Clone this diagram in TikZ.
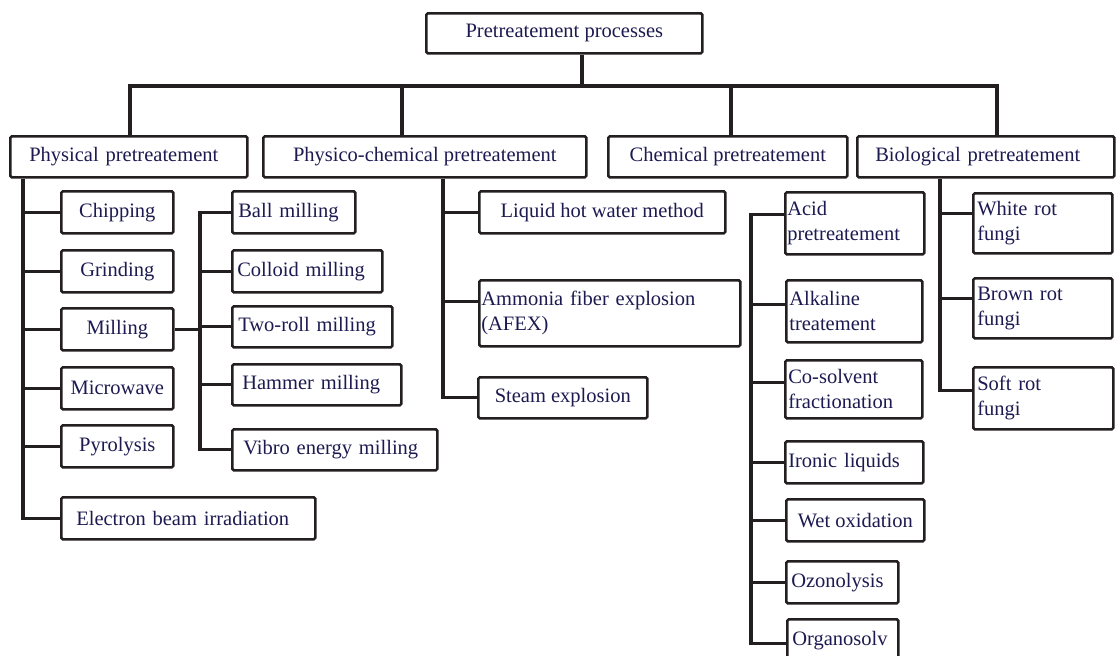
\documentclass[tikz,border=0pt]{standalone}
\usepackage{fontspec}
\setmainfont{Liberation Serif}
\definecolor{txtnavy}{HTML}{1C1A50}
\definecolor{linedark}{HTML}{231F20}
\tikzset{
  box/.style={draw=linedark, line width=2.6pt, rounded corners=1.5pt, text=txtnavy,
    font=\fontsize{20.5}{25}\selectfont, inner sep=0pt, anchor=north west},
  lbox/.style={box, align=left},
  link/.style={draw=linedark, line width=3.2pt},
}
\begin{document}
\begin{tikzpicture}[x=1pt, y=-1pt]
        \useasboundingbox (0,0) rectangle (1117,656);

        % Root of the tree
        \node[box, minimum width=276pt, minimum height=40pt] (root) at (425,12) {Pretreatement processes};

        % Main groups
        \node[lbox, inner xsep=19pt, text width=199pt, minimum height=41pt] (phys) at (9,135) {Physical pretreatement};
        \node[box, minimum width=323pt, minimum height=41pt] (physico) at (262,135) {Physico-chemical pretreatement};
        \node[box, minimum width=239pt, minimum height=41pt] (chem) at (607,135) {Chemical pretreatement};
        \node[lbox, inner xsep=18pt, text width=221pt, minimum height=41pt] (bio) at (856,135) {Biological pretreatement};

        % Physical methods
        \node[box, minimum width=112pt, minimum height=42pt] (chip) at (60,190) {Chipping};
        \node[box, minimum width=112pt, minimum height=42pt] (grind) at (60,249) {Grinding};
        \node[box, minimum width=112pt, minimum height=42pt] (mill) at (60,307) {Milling};
        \node[box, minimum width=112pt, minimum height=42pt] (micro) at (60,366) {Microwave};
        \node[box, minimum width=112pt, minimum height=42pt] (pyro) at (60,424) {Pyrolysis};
        \node[lbox, inner xsep=15pt, text width=224pt, minimum height=42pt] (ebeam) at (60,496) {Electron beam irradiation};

        % Kinds of milling
        \node[lbox, inner xsep=6pt, text width=111pt, minimum height=42pt] (ball) at (231,190) {Ball milling};
        \node[lbox, inner xsep=5pt, text width=140pt, minimum height=42pt] (colloid) at (231,249) {Colloid milling};
        \node[lbox, inner xsep=6pt, text width=148pt, minimum height=41pt] (tworoll) at (231,305) {Two-roll milling};
        \node[lbox, inner xsep=10pt, text width=149pt, minimum height=41pt] (hammer) at (231,363) {Hammer milling};
        \node[lbox, inner xsep=11pt, text width=183pt, minimum height=41pt] (vibro) at (231,428) {Vibro energy milling};

        % Physico-chemical methods
        \node[box, minimum width=246pt, minimum height=42pt] (liquid) at (478,190) {Liquid hot water method};
        \node[lbox, inner xsep=2pt, text width=257pt, minimum height=66pt] (afex) at (478,279) {Ammonia fiber explosion\\(AFEX)};
        \node[box, minimum width=169pt, minimum height=41pt] (steam) at (477,376) {Steam explosion};

        % Chemical methods
        \node[lbox, inner xsep=2pt, text width=135pt, minimum height=62pt] (acid) at (784,191) {Acid\\pretreatement};
        \node[lbox, inner xsep=3pt, text width=130pt, minimum height=62pt] (alkal) at (785,279) {Alkaline\\treatement};
        \node[lbox, inner xsep=3pt, text width=131pt, minimum height=58pt] (cosolv) at (784,359) {Co-solvent\\fractionation};
        \node[lbox, inner xsep=3pt, text width=132pt, minimum height=42pt] (ionic) at (784,440) {Ironic liquids};
        \node[box, minimum width=138pt, minimum height=42pt] (wet) at (785,498) {Wet oxidation};
        \node[lbox, inner xsep=5pt, text width=102pt, minimum height=42pt] (ozon) at (785,560) {Ozonolysis};
        \node[lbox, inner xsep=5pt, text width=101pt, minimum height=42pt] (organo) at (786,618) {Organosolv};

        % Biological methods
        \node[lbox, inner xsep=4pt, text width=131pt, minimum height=60pt] (white) at (972,192) {White rot\\fungi};
        \node[lbox, inner xsep=4pt, text width=131pt, minimum height=60pt] (brown) at (972,277) {Brown rot\\fungi};
        \node[lbox, inner xsep=4pt, text width=132pt, minimum height=62pt] (soft) at (972,366) {Soft rot\\fungi};

        % Top bus
        \coordinate (hub) at (582,86);
        \coordinate (busL) at (130,86);
        \coordinate (busR) at (997,86);
        \coordinate (dropPC) at (402,86);
        \coordinate (dropCh) at (731,86);
        \draw[link] (root.south -| hub) -- (hub);
        \draw[link] (phys.north -| busL) -- (busL) -- (busR) -- (bio.north -| busR);
        \draw[link] (dropPC) -- (physico.north -| dropPC);
        \draw[link] (dropCh) -- (chem.north -| dropCh);

        % Physical branch
        \coordinate (physSp) at (23,0);
        \draw[link] (phys.south -| physSp) |- (ebeam.west);
        \foreach \n in {chip,grind,mill,micro,pyro}
            \draw[link] (\n.west -| physSp) -- (\n.west);

        % Milling branch
        \coordinate (millSp) at (200,0);
        \draw[link] (mill.east) -- (mill.east -| millSp);
        \draw[link] (ball.west) -| (vibro.west -| millSp) -- (vibro.west);
        \foreach \n in {colloid,tworoll,hammer}
            \draw[link] (\n.west -| millSp) -- (\n.west);

        % Physico-chemical branch
        \coordinate (pcSp) at (443,0);
        \draw[link] (physico.south -| pcSp) |- (steam.west);
        \draw[link] (liquid.west -| pcSp) -- (liquid.west);
        \draw[link] ([yshift=12pt]afex.west -| pcSp) -- ([yshift=12pt]afex.west);

        % Chemical branch (not joined to its box)
        \coordinate (chSp) at (751,0);
        \draw[link] ([yshift=9pt]acid.west) -| ([yshift=-3pt]organo.west -| chSp) -- ([yshift=-3pt]organo.west);
        \draw[link] ([yshift=7pt]alkal.west -| chSp) -- ([yshift=7pt]alkal.west);
        \draw[link] ([yshift=7pt]cosolv.west -| chSp) -- ([yshift=7pt]cosolv.west);
        \foreach \n in {ionic,wet,ozon}
            \draw[link] (\n.west -| chSp) -- (\n.west);

        % Biological branch
        \coordinate (bioSp) at (940,0);
        \draw[link] (bio.south -| bioSp) |- ([yshift=8pt]soft.west);
        \draw[link] ([yshift=10pt]white.west -| bioSp) -- ([yshift=10pt]white.west);
        \draw[link] ([yshift=10pt]brown.west -| bioSp) -- ([yshift=10pt]brown.west);

    \end{tikzpicture}
\end{document}
